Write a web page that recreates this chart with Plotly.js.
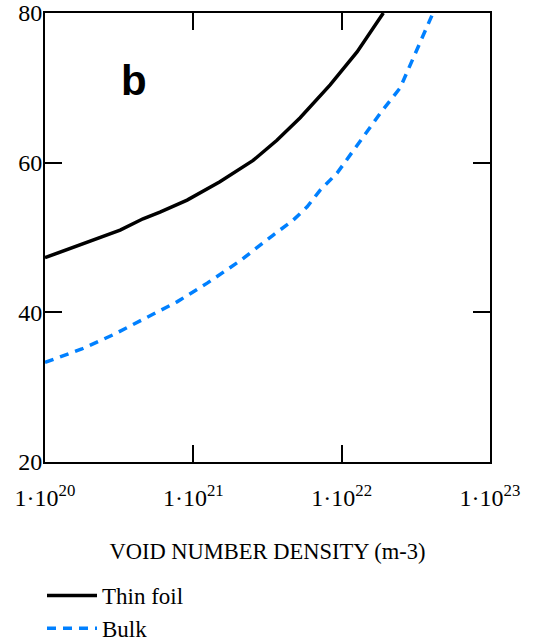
<!DOCTYPE html>
<html>
<head>
<meta charset="utf-8">
<script src="https://cdn.plot.ly/plotly-3.0.1.min.js"></script>
<style>html,body{margin:0;padding:0;background:#fff;}#chart{width:536px;height:643px;}</style>
</head>
<body>
<div id="chart"></div>
<script>
// Void number density (m^-3)
const thinFoilX = [1e20, 1.72e20, 3.21e20, 4.58e20, 5.96e20, 9.08e20, 1.51e21, 2.53e21, 3.66e21, 5.25e21, 8.36e21, 1.27e22, 1.91e22];
const thinFoilY = [47.3, 49.0, 51.0, 52.5, 53.4, 55.0, 57.45, 60.3, 63.0, 66.0, 70.4, 74.8, 80.0];
const bulkX = [1e20, 1.77e20, 2.88e20, 4.58e20, 7.76e20, 1.24e21, 2.07e21, 3.44e21, 4.70e21, 5.85e21, 7.14e21, 9.31e21, 1.33e22, 1.82e22, 2.48e22, 3.22e22, 4.13e22];
const bulkY = [33.3, 35.1, 37.0, 39.0, 41.4, 43.9, 46.9, 50.3, 52.3, 54.1, 56.3, 58.6, 62.8, 66.6, 70.0, 75.1, 80.0];
const xTickVals = [1e20, 1e21, 1e22, 1e23];
const xTickText = ["1\u00b710<sup>20</sup>", "1\u00b710<sup>21</sup>", "1\u00b710<sup>22</sup>", "1\u00b710<sup>23</sup>"];
const yTickVals = [20, 40, 60, 80];
const seriesNames = ["Thin foil", "Bulk"];

const serif = "Liberation Serif, Times New Roman, serif";
const traces = [
  {x: thinFoilX, y: thinFoilY, name: seriesNames[0], mode: "lines", legendgroup: "a",
   line: {color: "#000000", width: 3.5}},
  {x: bulkX, y: bulkY, name: seriesNames[1], mode: "lines", legendgroup: "b",
   line: {color: "#0080FF", width: 3.5, dash: "9px,7px"}}
];
const axisCommon = {showgrid: false, zeroline: false, showline: true, mirror: "allticks", automargin: false,
  linecolor: "#000", linewidth: 2, ticks: "inside", ticklen: 17, tickwidth: 2, tickcolor: "#000",
  tickfont: {family: serif, size: 24, color: "#000"}};
const layout = {
  width: 536, height: 643,
  margin: {l: 45, r: 46, t: 13, b: 181, autoexpand: false},
  paper_bgcolor: "#fff", plot_bgcolor: "#fff",
  showlegend: true,
  legend: {xref: "container", yref: "container", x: 42/536, y: 1 - 574/643, xanchor: "left", yanchor: "top",
    font: {family: serif, size: 23, color: "#000"}, itemwidth: 50, tracegroupgap: 0, bgcolor: "rgba(0,0,0,0)"},
  xaxis: Object.assign({}, axisCommon, {type: "log", range: [20, 23], tickvals: xTickVals, ticktext: xTickText,
    ticklabelstandoff: 13,
    title: {text: "VOID NUMBER DENSITY (m-3)", font: {family: serif, size: 22.5, color: "#000"}, standoff: 33}}),
  yaxis: Object.assign({}, axisCommon, {range: [20, 80], tickvals: yTickVals, ticklabelstandoff: -4}),
  annotations: [
    {xref: "paper", yref: "paper", x: 0.167, y: 0.907, text: "<b>b</b>", showarrow: false,
     font: {family: "Liberation Sans, Arial, sans-serif", size: 42, color: "#000"}}
  ]
};
Plotly.newPlot("chart", traces, layout, {displayModeBar: false, staticPlot: true});
</script>
</body>
</html>
